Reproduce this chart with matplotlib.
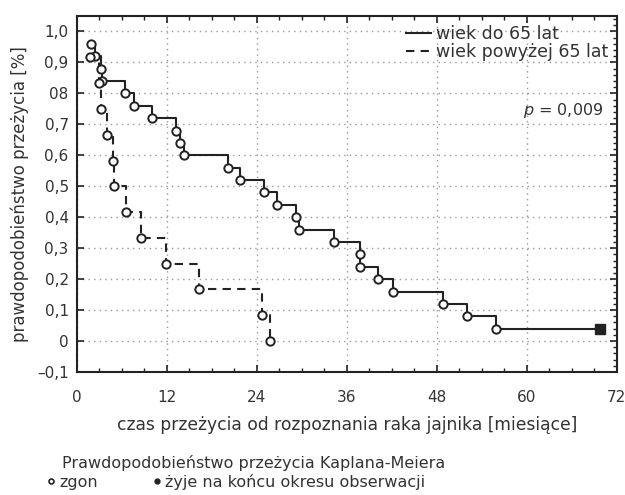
import numpy as np
import matplotlib
matplotlib.use("Agg")
import matplotlib.pyplot as plt
from matplotlib.lines import Line2D
from matplotlib.ticker import MultipleLocator

plt.rcParams['font.family'] = ['DejaVu Sans']

# wiek do 65 lat: czasy zgonow [miesiace] i prawdopodobienstwo po zgonie
t_mlodsze = [1.9, 2.4, 3.2, 3.4, 6.4, 7.6, 10.0, 13.2, 13.7, 14.3, 20.2, 21.7,
             24.9, 26.7, 29.2, 29.6, 34.3, 37.7, 37.7, 40.1, 42.1, 48.8, 52.0, 55.9]
s_mlodsze = [0.96, 0.92, 0.88, 0.84, 0.80, 0.76, 0.72, 0.68, 0.64, 0.60, 0.56, 0.52,
             0.48, 0.44, 0.40, 0.36, 0.32, 0.28, 0.24, 0.20, 0.16, 0.12, 0.08, 0.04]
t_cenz = [69.7]          # zyje na koncu okresu obserwacji
s_cenz = [0.04]

# wiek powyzej 65 lat
t_starsze = [1.7, 2.9, 3.2, 4.0, 4.75, 4.9, 6.5, 8.6, 11.9, 16.3, 24.7, 25.7]
s_starsze = [0.917, 0.833, 0.75, 0.667, 0.583, 0.5, 0.417, 0.333, 0.25, 0.167, 0.083, 0.0]

y_ticks = [1.0, 0.9, 0.8, 0.7, 0.6, 0.5, 0.4, 0.3, 0.2, 0.1, 0.0, -0.1]
y_labels = ['1,0', '0,9', '08', '0,7', '0,6', '0,5', '0,4', '0,3', '0,2', '0,1', '0', '\u20130,1']
x_ticks = [0, 12, 24, 36, 48, 60, 72]

kolor = '#222222'
tekst = '#333333'

fig = plt.figure(figsize=(6.25, 4.95), dpi=100)
ax = fig.add_axes([0.1232, 0.2485, 0.8638, 0.7192])

# krzywa do 65 lat (linia ciagla) + punkt cenzurowany
ax.plot(t_mlodsze + t_cenz, s_mlodsze + s_cenz, drawstyle='steps-post',
        color=kolor, lw=1.5, label='wiek do 65 lat', zorder=3)
ax.plot(t_mlodsze, s_mlodsze, 'o', ms=6, mfc='white', mec=kolor, mew=1.4, zorder=4)
ax.plot(t_cenz, s_cenz, 's', ms=7, color=kolor, zorder=4)

# krzywa powyzej 65 lat (linia przerywana)
ax.plot(t_starsze, s_starsze, drawstyle='steps-post', color=kolor, lw=1.5,
        linestyle=(0, (4, 3)), label='wiek powy\u017cej 65 lat', zorder=3)
ax.plot(t_starsze, s_starsze, 'o', ms=6, mfc='white', mec=kolor, mew=1.4, zorder=4)

ax.set_xlim(0, 72)
ax.set_ylim(-0.1, 1.05)
ax.set_xticks(x_ticks)
ax.set_xticklabels([str(v) for v in x_ticks])
ax.xaxis.set_minor_locator(MultipleLocator(3))
ax.set_yticks(y_ticks)
ax.set_yticklabels(y_labels)
ax.yaxis.set_minor_locator(MultipleLocator(0.02))

ax.tick_params(which='both', direction='in', top=True, right=True,
               colors=kolor, labelsize=11, labelcolor=tekst)
ax.tick_params(which='major', length=5, width=1.2, pad=6)
ax.tick_params(which='minor', length=3, width=1.0)
ax.tick_params(axis='x', which='major', pad=13)
ax.tick_params(axis='y', which='minor', left=False)

for s in ax.spines.values():
    s.set_linewidth(1.5)
    s.set_color(kolor)

ax.grid(True, which='major', linestyle=(0, (1, 3)), color='#999999', lw=1.0)

ax.set_xlabel('czas prze\u017cycia od rozpoznania raka jajnika [miesi\u0105ce]',
              fontsize=12.3, color=tekst, labelpad=8)
ax.set_ylabel('prawdopodobie\u0144stwo prze\u017cycia [%]', fontsize=12,
              color=tekst, labelpad=6)

leg = ax.legend(loc='upper right', frameon=False, fontsize=12.5, handlelength=1.4,
                handletextpad=0.3, labelspacing=0.0, borderaxespad=0.3,
                borderpad=0.2)
for t in leg.get_texts():
    t.set_color(tekst)

ax.text(0.975, 0.735, '$p$ = 0,009', transform=ax.transAxes, ha='right', va='center',
        fontsize=11.5, color=tekst)

fig.text(0.1, 0.065, 'Prawdopodobie\u0144stwo prze\u017cycia Kaplana-Meiera',
         fontsize=11.5, color=tekst, va='center')
uchwyty = [Line2D([], [], marker='o', ls='none', ms=3.5, mfc='white', mec=kolor, mew=1.2),
           Line2D([], [], marker='o', ls='none', ms=3.5, color=kolor)]
fig.legend(uchwyty, ['zgon', '\u017cyje na ko\u0144cu okresu obserwacji'],
           loc='center left', bbox_to_anchor=(0.075, 0.027), ncol=2, frameon=False,
           fontsize=11.5, handlelength=0.5, handletextpad=0.3, columnspacing=3.4,
           labelcolor=tekst, borderpad=0, borderaxespad=0)

fig.savefig('out.png', dpi=100)
